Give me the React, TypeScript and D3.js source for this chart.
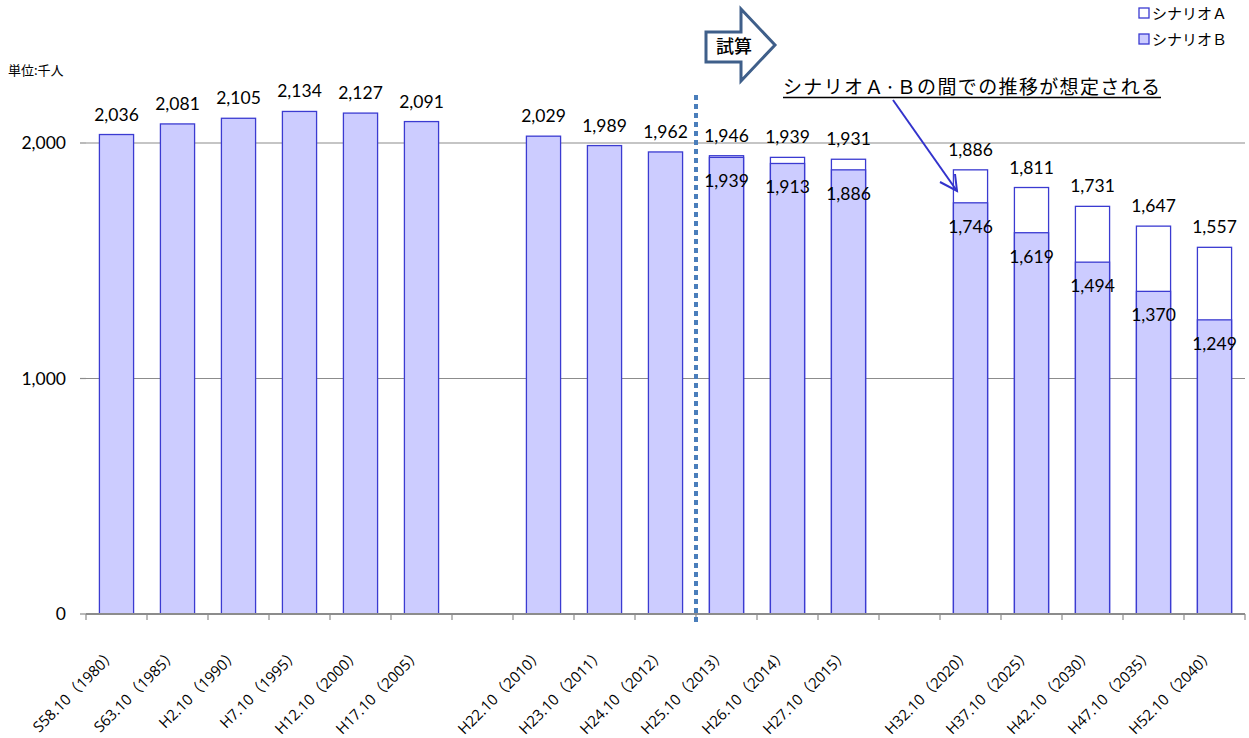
import * as d3 from 'd3';

const categories = [
  'S58.10（1980）', 'S63.10（1985）', 'H2.10（1990）', 'H7.10（1995）', 'H12.10（2000）', 'H17.10（2005）', '',
  'H22.10（2010）', 'H23.10（2011）', 'H24.10（2012）', 'H25.10（2013）', 'H26.10（2014）', 'H27.10（2015）', ' ',
  'H32.10（2020）', 'H37.10（2025）', 'H42.10（2030）', 'H47.10（2035）', 'H52.10（2040）',
];
const scenarioB: (number | null)[] = [
  2036, 2081, 2105, 2134, 2127, 2091, null,
  2029, 1989, 1962, 1939, 1913, 1886, null,
  1746, 1619, 1494, 1370, 1249,
];
const scenarioA: (number | null)[] = [
  null, null, null, null, null, null, null,
  null, null, null, 1946, 1939, 1931, null,
  1886, 1811, 1731, 1647, 1557,
];
const yTicks = [0, 1000, 2000];

const W = 1249;
const H = 738;
const FILL_B = '#ccccff';
const STROKE = '#3b3bd1';
const fmt = d3.format(',');

export default function App() {
  const x = d3.scaleBand<string>().domain(categories).range([86, 1245]).paddingInner(0.44).paddingOuter(0.22);
  const y = d3.scaleLinear().domain([0, 2000]).range([614, 143]);
  const step = x.step();
  const bw = x.bandwidth();
  const numFont = 'Lato, "Open Sans", sans-serif';
  const jpFont = '"Noto Sans CJK JP", sans-serif';
  const lblFont = '"Open Sans", "Noto Sans CJK JP", sans-serif';
  const splitX = 86 + 10 * step;

  return (
    <svg width={W} height={H} style={{ position: 'absolute', left: 0, top: 0, background: '#fff' }}>
      {/* gridlines */}
      {yTicks.filter(t => t > 0).map(t => (
        <line key={t} x1={86} x2={1245} y1={y(t)} y2={y(t)} stroke="#8c8c8c" strokeWidth={1.2} />
      ))}
      {/* y tick labels */}
      {yTicks.map(t => (
        <g key={'yl' + t}>
          <line x1={80} x2={86} y1={y(t)} y2={y(t)} stroke="#8c8c8c" strokeWidth={1.2} />
          <text x={66} y={y(t) + 6} textAnchor="end" fontFamily={numFont} fontSize={17.5} fill="#000">{fmt(t)}</text>
        </g>
      ))}
      <text x={8} y={75} fontFamily={jpFont} fontSize={13} fill="#000">単位:千人</text>

      {/* bars */}
      {categories.map((c, i) => {
        const b = scenarioB[i];
        if (b == null) return null;
        const a = scenarioA[i];
        const x0 = x(c)!;
        const cx = x0 + bw / 2;
        return (
          <g key={'bar' + i}>
            {a != null && (
              <rect x={x0} y={y(a)} width={bw} height={y(0) - y(a)} fill="#fff" stroke={STROKE} strokeWidth={1.3} />
            )}
            <rect x={x0} y={y(b)} width={bw} height={y(0) - y(b)} fill={FILL_B} stroke={STROKE} strokeWidth={1.3} />
            {a == null ? (
              <text x={cx} y={y(b) - 14} textAnchor="middle" fontFamily={numFont} fontSize={17.5} fill="#000">{fmt(b)}</text>
            ) : (
              <>
                <text x={cx} y={y(a) - 14} textAnchor="middle" fontFamily={numFont} fontSize={17.5} fill="#000">{fmt(a)}</text>
                <text x={cx} y={y(b) + 30} textAnchor="middle" fontFamily={numFont} fontSize={17.5} fill="#000">{fmt(b)}</text>
              </>
            )}
          </g>
        );
      })}

      {/* x axis */}
      <line x1={86} x2={1245} y1={y(0)} y2={y(0)} stroke="#8c8c8c" strokeWidth={2} />
      {d3.range(categories.length + 1).map(i => (
        <line key={'xt' + i} x1={86 + i * step} x2={86 + i * step} y1={y(0)} y2={y(0) + 6} stroke="#8c8c8c" strokeWidth={1.2} />
      ))}
      {categories.map((c, i) => {
        if (!c.trim()) return null;
        const cx = x(c)! + bw / 2 + 1;
        return (
          <text key={'xl' + i} transform={`translate(${cx},655) rotate(-45)`} textAnchor="end"
            fontFamily={lblFont} fontSize={15} fill="#000">{c}</text>
        );
      })}

      {/* dotted split line */}
      <line x1={splitX} x2={splitX} y1={95} y2={626} stroke="#4a7ebb" strokeWidth={4} strokeDasharray="5,4" />

      {/* block arrow 試算 */}
      <path d="M706,32 L741,32 L741,9 L775,45 L741,81 L741,62 L706,62 Z" fill="#fff" stroke="#3f5f8a" strokeWidth={3} strokeLinejoin="miter" />
      <text x={716} y={53} fontFamily={jpFont} fontSize={18} fontWeight={500} fill="#000">試算</text>

      {/* annotation */}
      <text x={783} y={94} fontFamily={jpFont} fontSize={19} fill="#000" textLength={377} lengthAdjust="spacing">シナリオＡ·Ｂの間での推移が想定される</text>
      <line x1={783} x2={1161} y1={97.5} y2={97.5} stroke="#000" strokeWidth={1.5} />
      <line x1={893} y1={100} x2={957} y2={191} stroke="#3333cc" strokeWidth={2} />
      <polyline points="940,182 957,191 955,174" fill="none" stroke="#3333cc" strokeWidth={2} />

      {/* legend */}
      <rect x={1139} y={8} width={10} height={10} fill="#fff" stroke={STROKE} strokeWidth={1.3} />
      <text x={1152} y={19} fontFamily={jpFont} fontSize={15} fill="#000">シナリオＡ</text>
      <rect x={1139} y={34} width={10} height={10} fill={FILL_B} stroke={STROKE} strokeWidth={1.3} />
      <text x={1152} y={45} fontFamily={jpFont} fontSize={15} fill="#000">シナリオＢ</text>
    </svg>
  );
}
